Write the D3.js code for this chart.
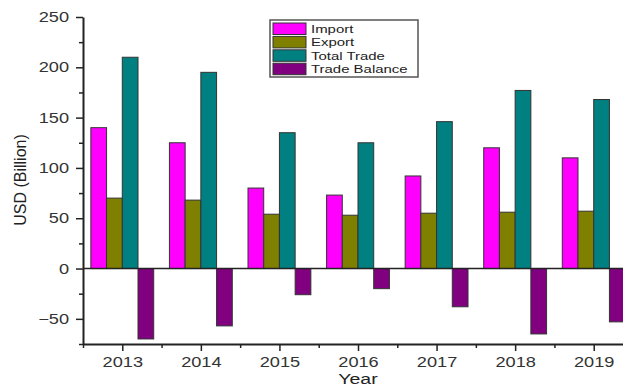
<!DOCTYPE html>
<html>
<head>
<meta charset="utf-8">
<script src="https://cdn.jsdelivr.net/npm/d3@7"></script>
<style>
  body { margin: 0; background: #fff; }
  text { font-family: "Liberation Sans", Arial, sans-serif; }
</style>
</head>
<body>
<div id="chart"></div>
<script>
// data
const years = [2013, 2014, 2015, 2016, 2017, 2018, 2019];
const seriesNames = ['Import', 'Export', 'Total Trade', 'Trade Balance'];
const seriesColors = ['#ff00ff', '#808000', '#008080', '#800080'];
const importVals = [140, 125, 80, 73, 92, 120, 110];
const exportVals = [70, 68, 54, 53, 55, 56, 57];
const totalVals = [210, 195, 135, 125, 146, 177, 168];
const balanceVals = [-70, -57, -26, -20, -38, -65, -53];
const yTicks = [-50, 0, 50, 100, 150, 200, 250];

const seriesValues = [importVals, exportVals, totalVals, balanceVals];

const width = 623;
const height = 389;
const margin = { top: 17, right: -10, bottom: 45, left: 83 };
// the picture looks stretched sideways, so text is widened a bit
const stretch = 1.3;

const svg = d3
  .select('#chart')
  .append('svg')
  .attr('width', width)
  .attr('height', height);

// scales
const x = d3
  .scaleLinear()
  .domain([2012.5, 2019.5])
  .range([margin.left, width - margin.right]);
const y = d3
  .scaleLinear()
  .domain([-75, 250])
  .range([height - margin.bottom, margin.top]);
const sub = d3
  .scaleBand()
  .domain(seriesNames)
  .range([-0.4, 0.4]);

// bars
seriesNames.forEach((name, i) => {
  svg
    .append('g')
    .selectAll('rect')
    .data(years.map((yr, j) => ({ year: yr, value: seriesValues[i][j] })))
    .enter()
    .append('rect')
    .attr('x', d => x(d.year + sub(name)))
    .attr('width', d => x(d.year + sub(name) + sub.bandwidth()) - x(d.year + sub(name)))
    .attr('y', d => y(Math.max(0, d.value)))
    .attr('height', d => Math.abs(y(d.value) - y(0)))
    .attr('fill', seriesColors[i])
    .attr('stroke', '#333')
    .attr('stroke-width', 1);
});

// zero line
svg
  .append('line')
  .attr('x1', margin.left)
  .attr('x2', width)
  .attr('y1', y(0))
  .attr('y2', y(0))
  .attr('stroke', '#222')
  .attr('stroke-width', 1.5);

// y axis with minor ticks
const yMinor = d3.range(-75, 251, 25).filter(v => !yTicks.includes(v));
svg
  .append('g')
  .attr('transform', `translate(${margin.left},0)`)
  .call(d3.axisLeft(y).tickValues(yMinor).tickSize(4).tickFormat(''))
  .call(g => g.select('.domain').remove())
  .selectAll('line')
  .attr('stroke', '#222')
  .attr('stroke-width', 1.5);

const gY = svg
  .append('g')
  .attr('transform', `translate(${margin.left},0)`)
  .call(d3.axisLeft(y).tickValues(yTicks).tickSize(7).tickSizeOuter(0).tickPadding(6));
gY.select('.domain').attr('stroke', '#222').attr('stroke-width', 2);
gY.selectAll('.tick line').attr('stroke', '#222').attr('stroke-width', 1.5);
gY.selectAll('text')
  .attr('x', -14 / stretch)
  .attr('transform', `scale(${stretch},1)`)
  .attr('font-size', 14)
  .attr('fill', '#333');

// x axis with minor ticks
const xMinor = d3.range(2012.5, 2020, 1);
svg
  .append('g')
  .attr('transform', `translate(0,${y(-75)})`)
  .call(d3.axisBottom(x).tickValues(xMinor).tickSize(4).tickFormat(''))
  .call(g => g.select('.domain').remove())
  .selectAll('line')
  .attr('stroke', '#222')
  .attr('stroke-width', 1.5);

const gX = svg
  .append('g')
  .attr('transform', `translate(0,${y(-75)})`)
  .call(d3.axisBottom(x).tickValues(years).tickFormat(d3.format('d')).tickSize(7).tickSizeOuter(0).tickPadding(6));
gX.select('.domain').attr('stroke', '#222').attr('stroke-width', 2);
gX.selectAll('.tick line').attr('stroke', '#222').attr('stroke-width', 1.5);
gX.selectAll('text')
  .attr('transform', `scale(${stretch},1)`)
  .attr('font-size', 14)
  .attr('fill', '#333');

// axis titles
svg
  .append('text')
  .attr('transform', `translate(26,180) rotate(-90)`)
  .attr('text-anchor', 'middle')
  .attr('font-size', 16)
  .attr('fill', '#222')
  .text('USD (Billion)');

svg
  .append('text')
  .attr('transform', `translate(358,384) scale(${stretch},1)`)
  .attr('text-anchor', 'middle')
  .attr('font-size', 15)
  .attr('fill', '#222')
  .text('Year');

// legend
const legend = svg.append('g').attr('transform', 'translate(270,20)');
legend
  .append('rect')
  .attr('width', 148)
  .attr('height', 57)
  .attr('fill', '#fff')
  .attr('stroke', '#555')
  .attr('stroke-width', 1.5);

const rows = legend
  .selectAll('g.row')
  .data(seriesNames)
  .enter()
  .append('g')
  .attr('class', 'row')
  .attr('transform', (d, i) => `translate(3,${3 + i * 13.4})`);
rows
  .append('rect')
  .attr('width', 33)
  .attr('height', 11.5)
  .attr('fill', (d, i) => seriesColors[i])
  .attr('stroke', '#333')
  .attr('stroke-width', 1);
rows
  .append('text')
  .attr('x', 38 / stretch)
  .attr('y', 10)
  .attr('transform', `scale(${stretch},1)`)
  .attr('font-size', 11.5)
  .attr('fill', '#222')
  .text(d => d);
</script>
</body>
</html>
